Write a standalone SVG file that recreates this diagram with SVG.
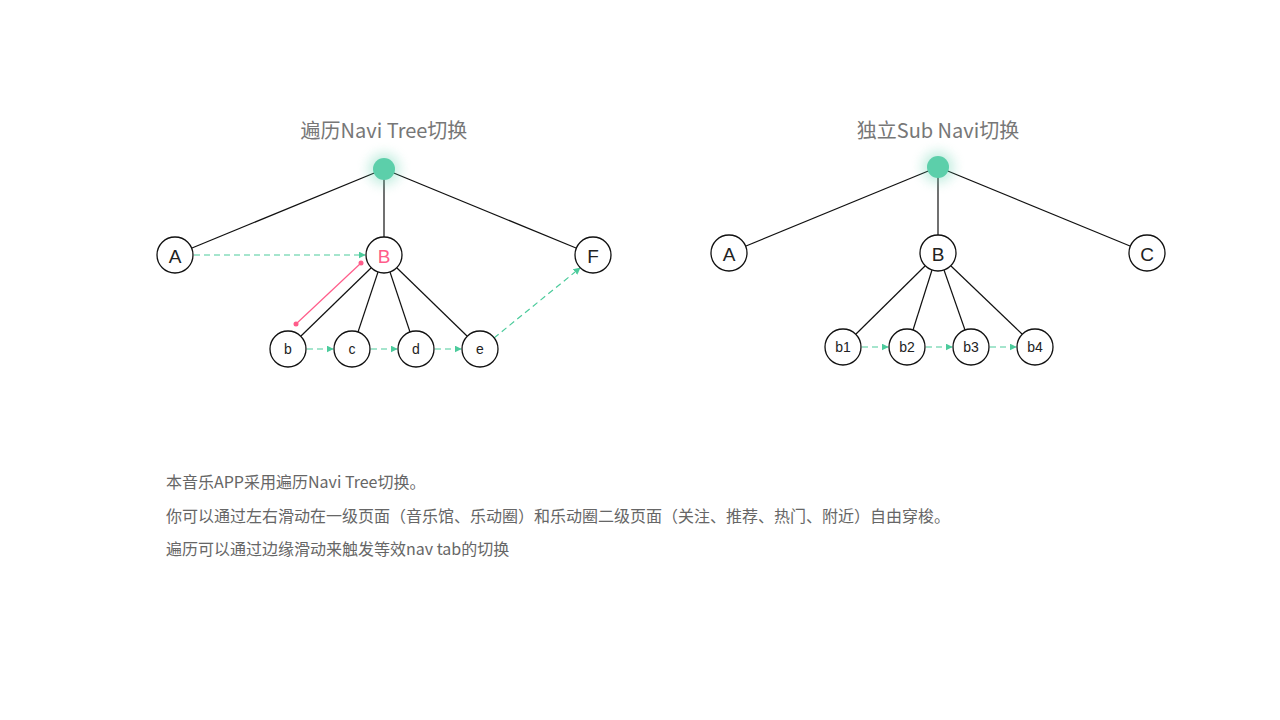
<svg xmlns="http://www.w3.org/2000/svg" width="1280" height="720" viewBox="0 0 1280 720">
<defs>
<style>
.t{font-family:"Noto Sans CJK SC","Liberation Sans",sans-serif;fill:#777;}
.title{font-size:20px;text-anchor:middle;}
.para{font-size:16px;fill:#666;}
.n{fill:#fff;stroke:#111;stroke-width:1.3;}
.lb{font-family:"Liberation Sans",Arial,sans-serif;text-anchor:middle;dominant-baseline:central;fill:#222;}
.big{font-size:19px;}
.sm{font-size:14px;}
.e{stroke:#111;stroke-width:1.2;fill:none;}
.g{stroke:#4ccb9c;stroke-width:1.2;stroke-dasharray:6 4;fill:none;marker-end:url(#ah);}
.root{fill:#5ccfaa;}
</style>
<marker id="ah" viewBox="0 0 10 10" refX="9" refY="5" markerWidth="7" markerHeight="7" orient="auto" markerUnits="userSpaceOnUse">
<path d="M0,0 L10,5 L0,10 z" fill="#4ccb9c"/>
</marker>
<filter id="glow" x="-2" y="-2" width="5" height="5">
<feGaussianBlur stdDeviation="6"/>
</filter>
</defs>
<rect width="1280" height="720" fill="#fff"/>

<text class="t title" x="384" y="138">遍历Navi Tree切换</text>
<text class="t title" x="938" y="138">独立Sub Navi切换</text>

<g id="edges">
<line class="e" x1="384" y1="169" x2="192" y2="248"/>
<line class="e" x1="384" y1="169" x2="384" y2="237"/>
<line class="e" x1="384" y1="169" x2="576" y2="248"/>
<line class="e" x1="371" y1="268" x2="301" y2="336"/>
<line class="e" x1="378" y1="272" x2="358" y2="332"/>
<line class="e" x1="390" y1="272" x2="410" y2="332"/>
<line class="e" x1="397" y1="268" x2="467" y2="336"/>
<line class="e" x1="938" y1="167" x2="746" y2="246"/>
<line class="e" x1="938" y1="167" x2="938" y2="235"/>
<line class="e" x1="938" y1="167" x2="1130" y2="246"/>
<line class="e" x1="925" y1="266" x2="856" y2="334"/>
<line class="e" x1="932" y1="270" x2="913" y2="330"/>
<line class="e" x1="944" y1="270" x2="965" y2="330"/>
<line class="e" x1="951" y1="266" x2="1022" y2="334"/>
<line class="g" x1="194" y1="255" x2="365" y2="255"/>
<line class="g" x1="307" y1="349" x2="333" y2="349"/>
<line class="g" x1="371" y1="349" x2="397" y2="349"/>
<line class="g" x1="435" y1="349" x2="461" y2="349"/>
<line class="g" x1="494" y1="338" x2="580" y2="268"/>
<line class="g" x1="862" y1="347" x2="888" y2="347"/>
<line class="g" x1="926" y1="347" x2="952" y2="347"/>
<line class="g" x1="990" y1="347" x2="1016" y2="347"/>
<line x1="296" y1="324" x2="361" y2="263" stroke="#ff5c8a" stroke-width="1.2"/>
<circle cx="296" cy="324" r="2.5" fill="#ff5c8a"/>
<circle cx="361" cy="263" r="2.5" fill="#ff5c8a"/>
</g>

<g id="root1">
<circle cx="384" cy="169" r="16" fill="#5ccfaa" opacity="0.35" filter="url(#glow)"/>
<circle class="root" cx="384" cy="169" r="11"/>
</g>
<g id="A1"><circle class="n" cx="175" cy="255" r="18"/><text class="lb big" x="175" y="256">A</text></g>
<g id="B1"><circle class="n" cx="384" cy="255" r="18"/><text class="lb big" x="384" y="256" style="fill:#ff5c8a">B</text></g>
<g id="F1"><circle class="n" cx="593" cy="255" r="18"/><text class="lb big" x="593" y="256">F</text></g>
<g id="b"><circle class="n" cx="288" cy="349" r="18"/><text class="lb sm" x="288" y="349">b</text></g>
<g id="c"><circle class="n" cx="352" cy="349" r="18"/><text class="lb sm" x="352" y="349">c</text></g>
<g id="d"><circle class="n" cx="416" cy="349" r="18"/><text class="lb sm" x="416" y="349">d</text></g>
<g id="e"><circle class="n" cx="480" cy="349" r="18"/><text class="lb sm" x="480" y="349">e</text></g>

<g id="root2">
<circle cx="938" cy="167" r="16" fill="#5ccfaa" opacity="0.35" filter="url(#glow)"/>
<circle class="root" cx="938" cy="167" r="11"/>
</g>
<g id="A2"><circle class="n" cx="729" cy="253" r="18"/><text class="lb big" x="729" y="254">A</text></g>
<g id="B2"><circle class="n" cx="938" cy="253" r="18"/><text class="lb big" x="938" y="254">B</text></g>
<g id="C2"><circle class="n" cx="1147" cy="253" r="18"/><text class="lb big" x="1147" y="254">C</text></g>
<g id="b1"><circle class="n" cx="843" cy="347" r="18"/><text class="lb sm" x="843" y="347">b1</text></g>
<g id="b2"><circle class="n" cx="907" cy="347" r="18"/><text class="lb sm" x="907" y="347">b2</text></g>
<g id="b3"><circle class="n" cx="971" cy="347" r="18"/><text class="lb sm" x="971" y="347">b3</text></g>
<g id="b4"><circle class="n" cx="1035" cy="347" r="18"/><text class="lb sm" x="1035" y="347">b4</text></g>

<text class="t para" x="166" y="488">本音乐APP采用遍历Navi Tree切换。</text>
<text class="t para" x="166" y="522">你可以通过左右滑动在一级页面（音乐馆、乐动圈）和乐动圈二级页面（关注、推荐、热门、附近）自由穿梭。</text>
<text class="t para" x="166" y="555">遍历可以通过边缘滑动来触发等效nav tab的切换</text>
</svg>
